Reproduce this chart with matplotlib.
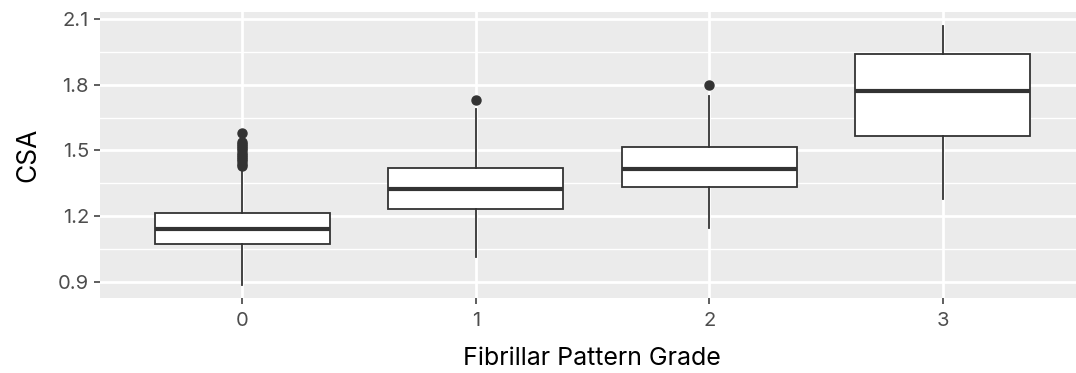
import numpy as np
import matplotlib.pyplot as plt

# data
grades = ["0", "1", "2", "3"]
q1 = [1.073, 1.232, 1.333, 1.566]
med = [1.141, 1.324, 1.415, 1.771]
q3 = [1.214, 1.420, 1.516, 1.940]
whislo = [0.885, 1.013, 1.146, 1.278]
whishi = [1.420, 1.689, 1.748, 2.068]
fliers = [
    [1.43, 1.44, 1.45, 1.46, 1.47, 1.48, 1.49, 1.50, 1.51, 1.52, 1.53, 1.54, 1.58],
    [1.73],
    [1.80],
    [],
]
yticks = [0.9, 1.2, 1.5, 1.8, 2.1]

plt.rcParams['font.family'] = ['Inter', 'DejaVu Sans']

fig = plt.figure(figsize=(10.76, 3.73), dpi=100)
W, H = 1076, 373
ax = fig.add_axes([100 / W, 1 - 298 / H, (1083 - 100) / W, (298 - 12) / H])
ax.set_facecolor('#EBEBEB')

stats = []
for i in range(len(grades)):
    stats.append(dict(med=med[i], q1=q1[i], q3=q3[i], whislo=whislo[i],
                      whishi=whishi[i], fliers=fliers[i], label=grades[i]))

ax.bxp(stats, positions=range(len(grades)), widths=0.75, patch_artist=True,
       showcaps=False,
       boxprops=dict(facecolor='white', edgecolor='#333333', linewidth=1.3),
       whiskerprops=dict(color='#333333', linewidth=1.3),
       medianprops=dict(color='#333333', linewidth=3),
       flierprops=dict(marker='o', markerfacecolor='#333333', markeredgecolor='#333333',
                       markersize=6.5),
       zorder=3)

ax.set_xlim(-0.61, 3.6)
ax.set_ylim(0.826, 2.132)
ax.set_yticks(yticks)
ax.set_yticklabels([f"{v:.1f}" for v in yticks])
ax.set_yticks([1.05, 1.35, 1.65, 1.95], minor=True)
ax.set_xticks(range(len(grades)))
ax.set_xticklabels(grades)

ax.grid(which='major', color='white', linewidth=2.0, zorder=0)
ax.grid(which='minor', axis='y', color='white', linewidth=1.0, zorder=0)
ax.set_axisbelow(True)
for s in ax.spines.values():
    s.set_visible(False)
ax.tick_params(which='major', length=4, width=1.1, color='#333333',
               labelcolor='#4D4D4D', labelsize=14.5, pad=4)
ax.tick_params(axis='x', pad=6)
ax.tick_params(which='minor', length=0)

ax.set_xlabel("Fibrillar Pattern Grade", fontsize=18, labelpad=12)
ax.set_ylabel("CSA", fontsize=19, labelpad=12)

fig.savefig("out.png", dpi=100)
